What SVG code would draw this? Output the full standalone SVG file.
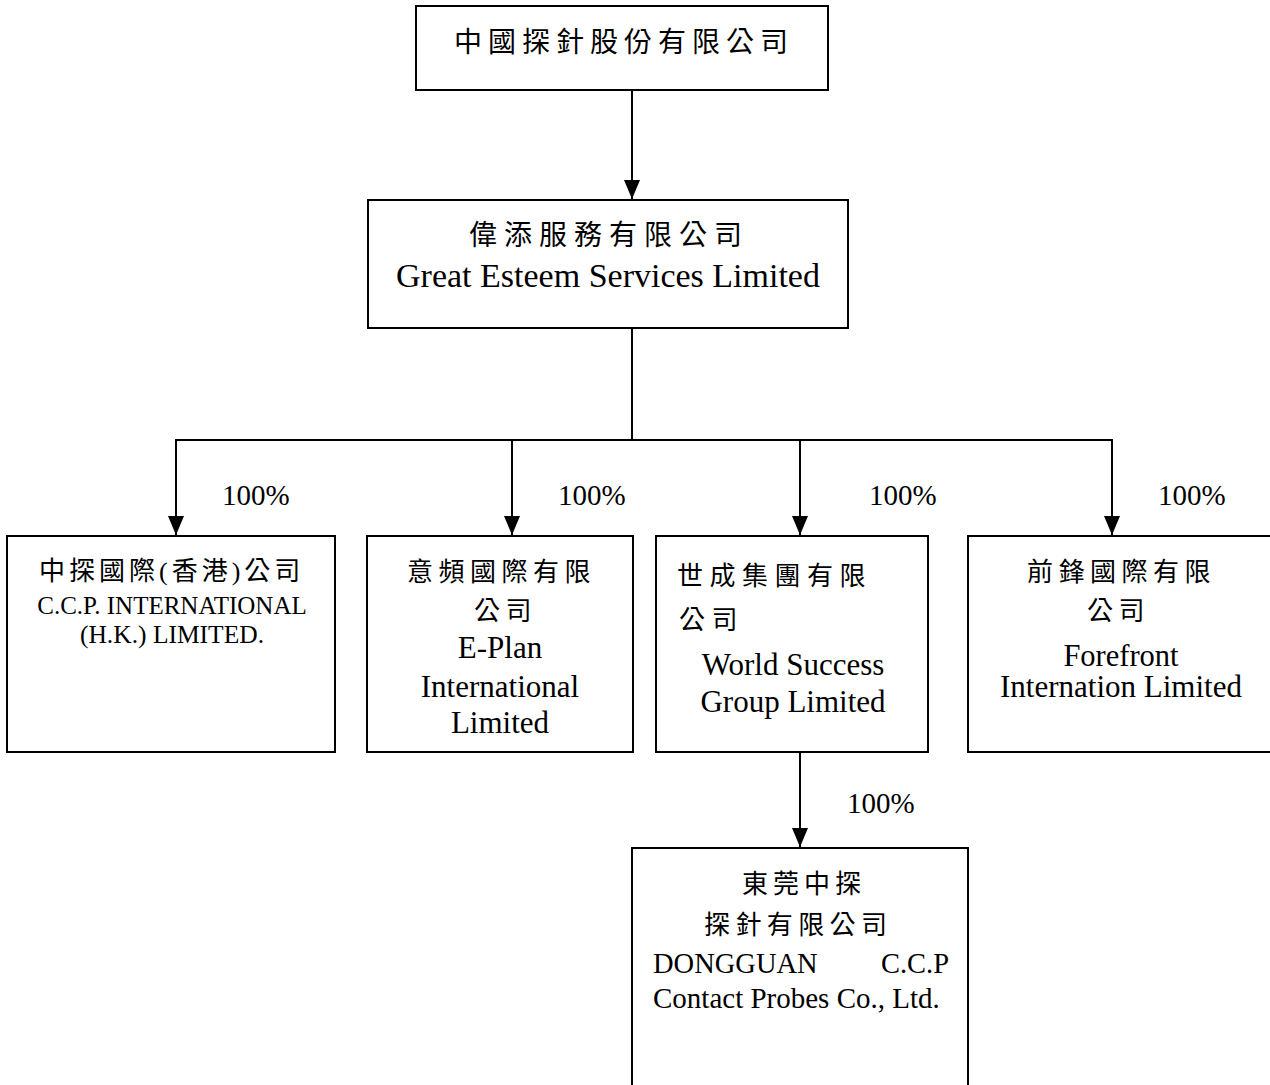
<svg xmlns="http://www.w3.org/2000/svg" width="1270" height="1085" viewBox="0 0 1270 1085">
<style>
.box{fill:#fff;stroke:#000;stroke-width:2}
.ln{fill:none;stroke:#000;stroke-width:2}
.cjk{font-family:"Liberation Serif","Noto Sans CJK TC",serif;font-size:26px;fill:#000;letter-spacing:5.5px}
.en{font-family:"Liberation Serif","Noto Sans CJK TC",serif;fill:#000}
.pct{font-family:"Liberation Serif",serif;font-size:29px;fill:#000}
</style>
<defs>
<marker id="ah" markerUnits="userSpaceOnUse" markerWidth="19" markerHeight="16" viewBox="0 0 19 16" refX="19" refY="8" orient="auto">
<path d="M0,0 L19,8 L0,16 Z" fill="#000"/>
</marker>
</defs>
<rect width="1270" height="1085" fill="#fff"/>
<g id="connectors">
<line class="ln" x1="632" y1="90" x2="632" y2="199" marker-end="url(#ah)"/>
<line class="ln" x1="632" y1="328" x2="632" y2="440"/>
<line class="ln" x1="175" y1="440" x2="1113" y2="440" stroke-width="2.5"/>
<line class="ln" x1="176" y1="440" x2="176" y2="535" marker-end="url(#ah)"/>
<line class="ln" x1="512" y1="440" x2="512" y2="535" marker-end="url(#ah)"/>
<line class="ln" x1="800" y1="440" x2="800" y2="535" marker-end="url(#ah)"/>
<line class="ln" x1="1112" y1="440" x2="1112" y2="535" marker-end="url(#ah)"/>
<line class="ln" x1="800" y1="752" x2="800" y2="847" marker-end="url(#ah)"/>
<text class="pct" x="222" y="505">100%</text>
<text class="pct" x="558" y="505">100%</text>
<text class="pct" x="869" y="505">100%</text>
<text class="pct" x="1158" y="505">100%</text>
<text class="pct" x="847" y="813">100%</text>
</g>
<g id="node-top">
<rect class="box" x="416" y="6" width="412" height="84"/>
<text class="cjk" x="454" y="52" style="font-size:28px;letter-spacing:6px">中國探針股份有限公司</text>
</g>
<g id="node-great-esteem">
<rect class="box" x="368" y="200" width="480" height="128"/>
<text class="cjk" x="469" y="245" style="font-size:28px;letter-spacing:7px">偉添服務有限公司</text>
<text class="en" x="608" y="287" text-anchor="middle" font-size="34">Great Esteem Services Limited</text>
</g>
<g id="node-ccp-hk">
<rect class="box" x="7" y="536" width="328" height="216"/>
<text class="cjk" x="39" y="580" style="letter-spacing:4px">中探國際(香港)公司</text>
<text class="en" x="172" y="614" text-anchor="middle" font-size="25">C.C.P. INTERNATIONAL</text>
<text class="en" x="172" y="643" text-anchor="middle" font-size="25.5">(H.K.) LIMITED.</text>
</g>
<g id="node-eplan">
<rect class="box" x="367" y="536" width="266" height="216"/>
<text class="cjk" x="407" y="581">意頻國際有限</text>
<text class="cjk" x="474" y="620">公司</text>
<text class="en" x="500" y="658" text-anchor="middle" font-size="31">E-Plan</text>
<text class="en" x="500" y="697" text-anchor="middle" font-size="31">International</text>
<text class="en" x="500" y="733" text-anchor="middle" font-size="31">Limited</text>
</g>
<g id="node-world-success">
<rect class="box" x="656" y="536" width="272" height="216"/>
<text class="cjk" x="677" y="585" style="letter-spacing:6.5px">世成集團有限</text>
<text class="cjk" x="679" y="629" style="letter-spacing:6.5px">公司</text>
<text class="en" x="793" y="675" text-anchor="middle" font-size="31">World Success</text>
<text class="en" x="793" y="712" text-anchor="middle" font-size="31">Group Limited</text>
</g>
<g id="node-forefront">
<rect class="box" x="968" y="536" width="312" height="216"/>
<text class="cjk" x="1027" y="581">前鋒國際有限</text>
<text class="cjk" x="1087" y="620">公司</text>
<text class="en" x="1121" y="666" text-anchor="middle" font-size="30.5">Forefront</text>
<text class="en" x="1121" y="697" text-anchor="middle" font-size="31">Internation Limited</text>
</g>
<g id="node-dongguan">
<rect class="box" x="632" y="848" width="336" height="260"/>
<text class="cjk" x="742" y="893" style="letter-spacing:5px">東莞中探</text>
<text class="cjk" x="704" y="934" style="letter-spacing:5.4px">探針有限公司</text>
<text class="en" x="653" y="973" font-size="28.5">DONGGUAN</text>
<text class="en" x="949" y="973" text-anchor="end" font-size="28.5">C.C.P</text>
<text class="en" x="653" y="1008" font-size="29">Contact Probes Co., Ltd.</text>
</g>
</svg>
